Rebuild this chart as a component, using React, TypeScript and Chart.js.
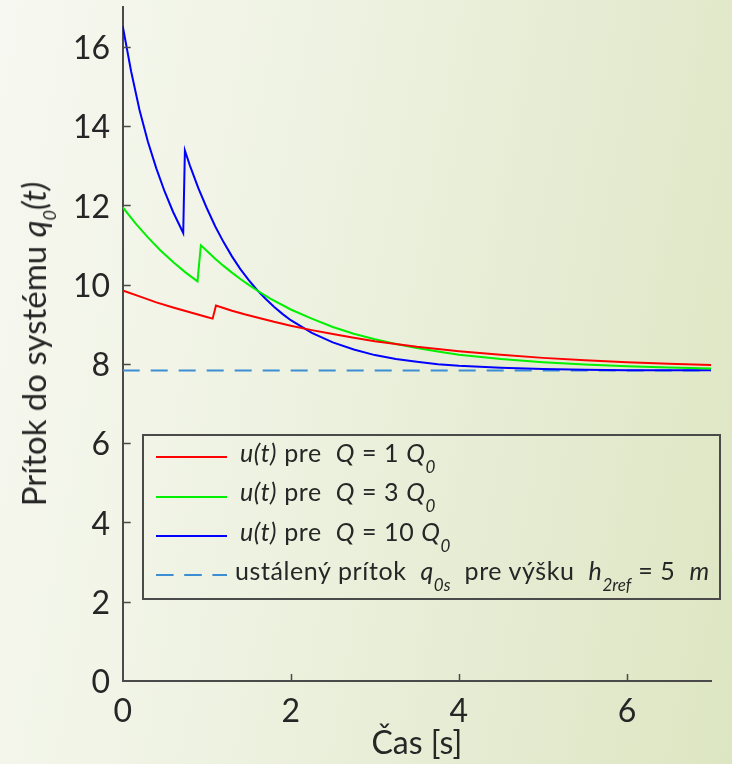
import React, { useEffect, useRef } from 'react';
import { Chart, registerables } from 'chart.js';

Chart.register(...registerables);

// ---- axes / ticks ----
const xMin = 0;
const xMax = 7;
const yMin = 0;
const yMax = 17;
const xTicks = [0, 2, 4, 6];
const yTicks = [0, 2, 4, 6, 8, 10, 12, 14, 16];
const xTitle = 'Čas [s]';

// ---- series: Q = 1 Q0 (red) ----
const tRed = [0, 0.2, 0.4, 0.6, 0.8, 1.0, 1.07, 1.11, 1.2, 1.3, 1.45, 1.6, 1.8, 2.0, 2.25, 2.5, 2.75, 3.0, 3.5, 4.0, 4.5, 5.0, 5.5, 6.0, 6.5, 7.0];
const qRed = [9.85, 9.70, 9.55, 9.42, 9.30, 9.18, 9.14, 9.47, 9.41, 9.34, 9.25, 9.17, 9.06, 8.96, 8.85, 8.75, 8.66, 8.57, 8.43, 8.32, 8.23, 8.15, 8.09, 8.04, 8.00, 7.97];

// ---- series: Q = 3 Q0 (green) ----
const tGreen = [0, 0.15, 0.3, 0.45, 0.6, 0.75, 0.89, 0.93, 1.0, 1.1, 1.2, 1.3, 1.4, 1.5, 1.6, 1.75, 2.0, 2.25, 2.5, 2.75, 3.0, 3.25, 3.5, 3.75, 4.0, 4.5, 5.0, 5.5, 6.0, 6.5, 7.0];
const qGreen = [11.95, 11.55, 11.19, 10.86, 10.57, 10.30, 10.08, 10.99, 10.85, 10.65, 10.47, 10.30, 10.14, 9.99, 9.85, 9.65, 9.37, 9.14, 8.93, 8.76, 8.62, 8.50, 8.40, 8.31, 8.23, 8.12, 8.04, 7.98, 7.94, 7.91, 7.88];

// ---- series: Q = 10 Q0 (blue) ----
const tBlue = [0, 0.1, 0.2, 0.3, 0.4, 0.5, 0.6, 0.72, 0.74, 0.8, 0.9, 1.0, 1.1, 1.2, 1.3, 1.4, 1.5, 1.6, 1.7, 1.8, 1.9, 2.0, 2.25, 2.5, 2.75, 3.0, 3.25, 3.5, 3.75, 4.0, 4.5, 5.0, 5.5, 6.0, 6.5, 7.0];
const qBlue = [16.52, 15.38, 14.40, 13.60, 12.93, 12.34, 11.83, 11.30, 13.38, 13.00, 12.43, 11.93, 11.47, 11.07, 10.71, 10.39, 10.11, 9.86, 9.64, 9.44, 9.26, 9.10, 8.78, 8.54, 8.36, 8.22, 8.12, 8.05, 7.99, 7.95, 7.90, 7.87, 7.85, 7.84, 7.84, 7.84];

// ---- steady-state inflow (dashed) ----
const tSteady = [0, 7];
const qSteady = [7.83, 7.83];

const TEXT = '#262626';
const AXIS = '#4a4a4a';
const FONT = 'Lato, "Open Sans", sans-serif';

const toXY = (ts: number[], vs: number[]) => ts.map((t, i) => ({ x: t, y: vs[i] }));

const inwardTicks = {
  id: 'inwardTicks',
  afterDatasetsDraw(chart: any) {
    const { ctx, chartArea, scales } = chart;
    ctx.save();
    ctx.strokeStyle = AXIS;
    ctx.lineWidth = 1.5;
    ctx.beginPath();
    scales.x.ticks.forEach((t: any) => {
      if (t.value === xMin) return;
      const px = Math.round(scales.x.getPixelForValue(t.value)) + 0.5;
      ctx.moveTo(px, chartArea.bottom);
      ctx.lineTo(px, chartArea.bottom - 7);
    });
    scales.y.ticks.forEach((t: any) => {
      if (t.value === yMin) return;
      const py = Math.round(scales.y.getPixelForValue(t.value)) + 0.5;
      ctx.moveTo(chartArea.left, py);
      ctx.lineTo(chartArea.left + 8, py);
    });
    ctx.stroke();
    ctx.restore();
  },
};

const subStyle: React.CSSProperties = { fontSize: 17, verticalAlign: '-11px', fontStyle: 'italic', letterSpacing: 0 };

export default function App() {
  const ref = useRef<HTMLCanvasElement | null>(null);

  useEffect(() => {
    let chart: Chart | null = null;
    let cancelled = false;
    const build = () => {
      if (cancelled || !ref.current) return;
      chart = new Chart(ref.current, {
        type: 'line',
        data: {
          datasets: [
            { label: 'Q = 1 Q0', data: toXY(tRed, qRed), borderColor: '#ff0000' },
            { label: 'Q = 3 Q0', data: toXY(tGreen, qGreen), borderColor: '#00f000' },
            { label: 'Q = 10 Q0', data: toXY(tBlue, qBlue), borderColor: '#0000ff' },
            { label: 'q0s', data: toXY(tSteady, qSteady), borderColor: '#3b8ed4', borderDash: [17, 11] },
          ],
        },
        options: {
          animation: false,
          responsive: false,
          devicePixelRatio: 1,
          layout: { padding: { top: 7, right: 21, left: 0, bottom: 0 } },
          elements: {
            point: { radius: 0 },
            line: { tension: 0, borderWidth: 2, fill: false },
          },
          plugins: {
            legend: { display: false },
            tooltip: { enabled: false },
          },
          scales: {
            x: {
              type: 'linear',
              min: xMin,
              max: xMax,
              afterBuildTicks: (s: any) => { s.ticks = xTicks.map((v) => ({ value: v })); },
              afterFit: (s: any) => { s.height = 83; s.paddingLeft = 0; s.paddingRight = 0; },
              grid: { display: false, drawTicks: false },
              border: { display: true, color: AXIS, width: 2 },
              ticks: { padding: 11, color: TEXT, font: { family: FONT, size: 32 }, maxRotation: 0 },
              title: { display: true, text: xTitle, color: TEXT, font: { family: FONT, size: 32 }, padding: { top: 0, bottom: 1 } },
            },
            y: {
              type: 'linear',
              min: yMin,
              max: yMax,
              afterBuildTicks: (s: any) => { s.ticks = yTicks.map((v) => ({ value: v })); },
              afterFit: (s: any) => { s.width = 122.7; s.paddingTop = 0; s.paddingBottom = 0; },
              grid: { display: false, drawTicks: false },
              border: { display: true, color: AXIS, width: 2 },
              ticks: { padding: 12.7, color: TEXT, font: { family: FONT, size: 32 }, labelOffset: 2 },
            },
          },
        },
        plugins: [inwardTicks],
      } as any);
    };
    const fontsApi = (document as any).fonts;
    if (fontsApi && fontsApi.load) {
      Promise.all([
        fontsApi.load('32px Lato'),
        fontsApi.load('italic 24px Lato'),
      ]).then(build, build);
    } else {
      build();
    }
    return () => {
      cancelled = true;
      if (chart) chart.destroy();
    };
  }, []);

  const rowBase: React.CSSProperties = {
    position: 'absolute',
    fontSize: 25,
    lineHeight: '25px',
    letterSpacing: '0.6px',
    whiteSpace: 'pre',
    color: TEXT,
  };

  const sample = (top: number, color: string, dash?: string) => (
    <svg style={{ position: 'absolute', left: 155.7, top: top - 3, width: 72, height: 6 }} width={72} height={6}>
      <line x1={0} y1={3} x2={71} y2={3} stroke={color} strokeWidth={2} strokeDasharray={dash} />
    </svg>
  );

  return (
    <div
      style={{
        position: 'fixed',
        left: 0,
        top: 0,
        width: 732,
        height: 764,
        overflow: 'hidden',
        background: 'linear-gradient(100deg, #f7f8f1 0%, #eef2e1 40%, #e5ebd1 72%, #dde6c2 100%)',
        fontFamily: FONT,
      }}
    >
      <canvas ref={ref} width={732} height={764} style={{ position: 'absolute', left: 0, top: 0, width: 732, height: 764 }} />

      {/* y-axis title */}
      <div
        style={{
          position: 'absolute',
          left: 41,
          top: 344.2,
          transform: 'translate(-50%, -50%) rotate(-90deg)',
          fontSize: 33,
          lineHeight: '38px',
          whiteSpace: 'pre',
          color: TEXT,
        }}
      >
        Prítok do systému <i>q</i><span style={{ fontSize: 18, verticalAlign: '-10px', fontStyle: 'italic' }}>0</span><i>(t)</i>
      </div>

      {/* legend */}
      <div
        style={{
          position: 'absolute',
          left: 142,
          top: 434,
          width: 579,
          height: 166,
          boxSizing: 'border-box',
          border: `2px solid ${AXIS}`,
        }}
      />
      {sample(457.3, '#ff0000')}
      {sample(497, '#00f000')}
      {sample(536.3, '#0000ff')}
      {sample(575.3, '#3b8ed4', '17.6 10.6')}

      <div style={{ ...rowBase, left: 240, top: 440 }}>
        <i>u(t)</i> pre  <i>Q</i> = 1 <i>Q</i><span style={subStyle}>0</span>
      </div>
      <div style={{ ...rowBase, left: 240, top: 479.4 }}>
        <i>u(t)</i> pre  <i>Q</i> = 3 <i>Q</i><span style={subStyle}>0</span>
      </div>
      <div style={{ ...rowBase, left: 240, top: 518.8 }}>
        <i>u(t)</i> pre  <i>Q</i> = 10 <i>Q</i><span style={subStyle}>0</span>
      </div>
      <div style={{ ...rowBase, left: 235, top: 558.3 }}>
        ustálený prítok  <i>q</i><span style={subStyle}>0s</span>  pre výšku  <i>h</i><span style={subStyle}>2ref</span> = 5  <i>m</i>
      </div>
    </div>
  );
}
